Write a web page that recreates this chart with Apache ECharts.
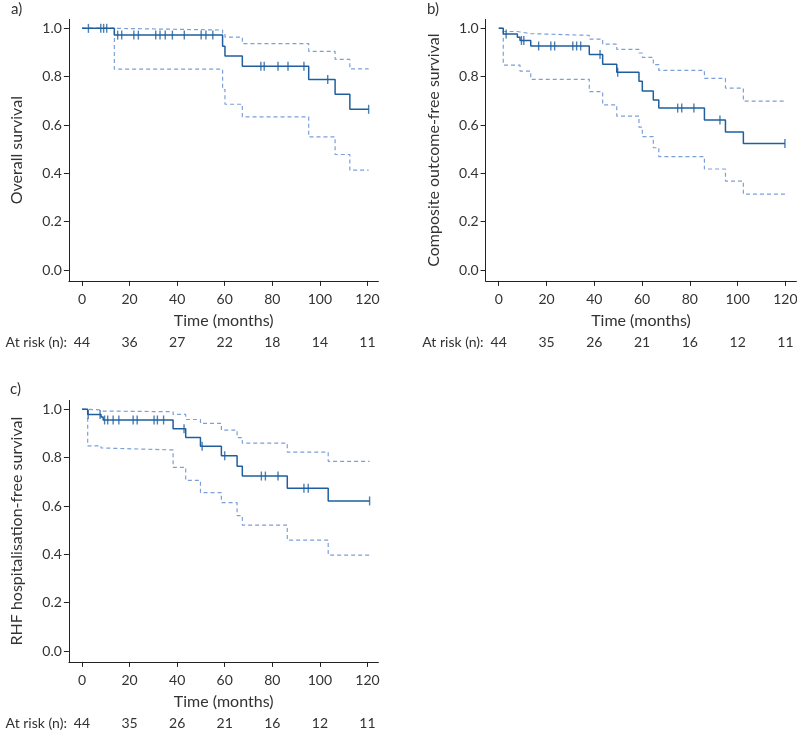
<!DOCTYPE html>
<html>
<head>
<meta charset="utf-8">
<script src="https://cdn.jsdelivr.net/npm/echarts@6/dist/echarts.min.js"></script>
<style>
html,body{margin:0;padding:0;background:#fff;}
#c{width:797px;height:735px;}
</style>
</head>
<body>
<div id="c"></div>
<script>
// ---- data ----
const xTicks = [0, 20, 40, 60, 80, 100, 120];
const yTicks = [0, 0.2, 0.4, 0.6, 0.8, 1.0];

// Panel a: overall survival
const timesA = [0, 13.6, 59.1, 60.1, 67.4, 95.3, 106.4, 112.6, 120.5];
const survA  = [1, 0.972, 0.926, 0.886, 0.843, 0.788, 0.727, 0.665, 0.665];
const upperA = [1, 0.993, 0.978, 0.964, 0.937, 0.905, 0.872, 0.832, 0.832];
const lowerA = [1, 0.831, 0.747, 0.686, 0.634, 0.551, 0.478, 0.413, 0.413];
const censorA = [2.7, 7.9, 9.1, 10.4, 15.0, 16.7, 21.8, 23.7, 31.0, 32.8, 35.0, 38.0, 43.0, 50.1, 52.1, 55.0, 75.2, 76.6, 82.4, 86.6, 93.3, 103.3, 120.5];
const riskA = [44, 36, 27, 22, 18, 14, 11];

// Panel b: composite outcome-free survival
const timesB = [0, 1.9, 7.8, 8.9, 13.4, 37.9, 43.5, 49.4, 58.7, 60.1, 64.7, 67.0, 86.1, 94.9, 102.4, 119.8];
const survB  = [1, 0.977, 0.963, 0.950, 0.927, 0.892, 0.851, 0.818, 0.781, 0.741, 0.703, 0.670, 0.621, 0.571, 0.524, 0.524];
const upperB = [1, 0.987, 0.985, 0.978, 0.971, 0.955, 0.935, 0.913, 0.898, 0.880, 0.850, 0.826, 0.793, 0.753, 0.699, 0.699];
const lowerB = [1, 0.848, 0.848, 0.823, 0.789, 0.738, 0.683, 0.637, 0.591, 0.552, 0.506, 0.469, 0.418, 0.368, 0.314, 0.314];
const censorB = [3.1, 9.5, 10.5, 16.7, 21.8, 23.4, 31.0, 32.6, 34.3, 42.4, 49.8, 74.9, 76.6, 81.7, 92.6, 119.8];
const riskB = [44, 35, 26, 21, 16, 12, 11];

// Panel c: RHF hospitalisation-free survival
const timesC = [0, 2.4, 8.0, 8.9, 38.3, 43.6, 49.8, 58.6, 65.2, 67.4, 86.3, 103.5, 120.9];
const survC  = [1, 0.979, 0.968, 0.956, 0.920, 0.884, 0.847, 0.808, 0.765, 0.724, 0.674, 0.621, 0.621];
const upperC = [1, 0.998, 0.993, 0.990, 0.979, 0.958, 0.942, 0.914, 0.883, 0.860, 0.823, 0.785, 0.785];
const lowerC = [1, 0.849, 0.840, 0.832, 0.760, 0.706, 0.655, 0.614, 0.560, 0.521, 0.459, 0.397, 0.397];
const censorC = [2.6, 7.6, 9.5, 10.8, 13.1, 15.5, 21.5, 23.2, 30.3, 31.7, 34.3, 42.9, 50.5, 60.0, 75.4, 77.1, 82.4, 93.3, 95.1, 120.9];
const riskC = [44, 35, 26, 21, 16, 12, 11];

// ---- styling ----
const FONT = 'Lato';
const TXT = '#333333';
const MAIN = '#1f5f9f';
const CI = '#7d9fd8';
const FS = 14;     // tick labels / at-risk row
const FSN = 16;    // axis titles

const panels = [
  { t: timesA, s: survA, u: upperA, l: lowerA, c: censorA, r: riskA, yName: 'Overall survival', tag: 'a)',
    grid: { left: 68.9, top: 19.4, width: 309.5, height: 261.5 } },
  { t: timesB, s: survB, u: upperB, l: lowerB, c: censorB, r: riskB, yName: 'Composite outcome-free survival', tag: 'b)',
    grid: { left: 485.6, top: 19.4, width: 310.8, height: 261.5 } },
  { t: timesC, s: survC, u: upperC, l: lowerC, c: censorC, r: riskC, yName: 'RHF hospitalisation-free survival', tag: 'c)',
    grid: { left: 68.9, top: 400.4, width: 309.5, height: 261.5 } }
];
const RISK_OFFSET = 62;

function pairs(t, v) { return t.map((x, i) => [x, v[i]]); }
function stepAt(t, v, x) {
  let k = 0;
  for (let i = 0; i < t.length; i++) { if (t[i] <= x) k = i; }
  return v[k];
}

const grids = [], xAxes = [], yAxes = [], series = [], graphics = [];
panels.forEach((p, gi) => {
  grids.push(Object.assign({ containLabel: false, outerBoundsMode: 'none' }, p.grid));
  xAxes.push({
    type: 'value', gridIndex: gi, min: -5.5, max: 124.6, position: 'bottom',
    name: 'Time (months)', nameLocation: 'middle', nameGap: 32,
    nameTextStyle: { fontFamily: FONT, fontSize: FSN, color: TXT },
    axisLine: { show: true, onZero: false, lineStyle: { color: '#222', width: 1 } },
    axisTick: { show: true, length: 5, customValues: xTicks, lineStyle: { color: '#222' } },
    axisLabel: { customValues: xTicks, margin: 12, fontFamily: FONT, fontSize: FS, color: TXT },
    splitLine: { show: false }
  });
  const risk = p.r;
  xAxes.push({
    type: 'value', gridIndex: gi, min: -5.5, max: 124.6, position: 'bottom', offset: RISK_OFFSET,
    axisLine: { show: false }, axisTick: { show: false },
    axisLabel: { customValues: xTicks, margin: 0, verticalAlign: 'middle', fontFamily: FONT, fontSize: FS, color: TXT,
      formatter: v => { const i = xTicks.indexOf(Math.round(v)); return i >= 0 ? String(risk[i]) : ''; } },
    splitLine: { show: false }
  });
  yAxes.push({
    type: 'value', gridIndex: gi, min: -0.045, max: 1.037,
    name: p.yName, nameLocation: 'middle', nameGap: 44,
    nameTextStyle: { fontFamily: FONT, fontSize: FSN, color: TXT },
    axisLine: { show: true, onZero: false, lineStyle: { color: '#222', width: 1 } },
    axisTick: { show: true, length: 5, customValues: yTicks, lineStyle: { color: '#222' } },
    axisLabel: { customValues: yTicks, margin: 7, fontFamily: FONT, fontSize: FS, color: TXT,
      formatter: v => Number(v).toFixed(1) },
    splitLine: { show: false }
  });
  graphics.push({
    type: 'text', x: p.grid.left - 2, y: p.grid.top + p.grid.height + RISK_OFFSET,
    style: { text: 'At risk (n):', fontFamily: FONT, fontSize: FS, fill: TXT, align: 'right', verticalAlign: 'middle' }
  });
  const xi = gi * 2;
  const ciStyle = { color: CI, width: 1.2, type: [4, 3] };
  series.push({ type: 'line', xAxisIndex: xi, yAxisIndex: gi, step: 'end', symbol: 'none',
    data: pairs(p.t, p.l), lineStyle: ciStyle, z: 2, silent: true });
  series.push({ type: 'line', xAxisIndex: xi, yAxisIndex: gi, step: 'end', symbol: 'none',
    data: pairs(p.t, p.u), lineStyle: ciStyle, z: 2, silent: true });
  series.push({ type: 'line', xAxisIndex: xi, yAxisIndex: gi, step: 'end', symbol: 'none',
    data: pairs(p.t, p.s), lineStyle: { color: MAIN, width: 1.5 }, z: 3, silent: true });
  series.push({ type: 'scatter', xAxisIndex: xi, yAxisIndex: gi, symbol: 'rect', symbolSize: [1.4, 9],
    data: p.c.map(x => [x, stepAt(p.t, p.s, x)]), itemStyle: { color: MAIN }, z: 4, silent: true });
});

const chart = echarts.init(document.getElementById('c'), null, { renderer: 'canvas' });
chart.setOption({
  animation: false,
  backgroundColor: '#fff',
  grid: grids, xAxis: xAxes, yAxis: yAxes, series: series, graphic: graphics,
  title: [
    { text: 'a)', left: 11, top: 2 },
    { text: 'b)', left: 427, top: 2 },
    { text: 'c)', left: 10, top: 382 }
  ].map(t => Object.assign(t, { padding: 0, textStyle: { fontFamily: FONT, fontSize: 15, fontWeight: 'normal', color: TXT } }))
});
</script>
</body>
</html>
